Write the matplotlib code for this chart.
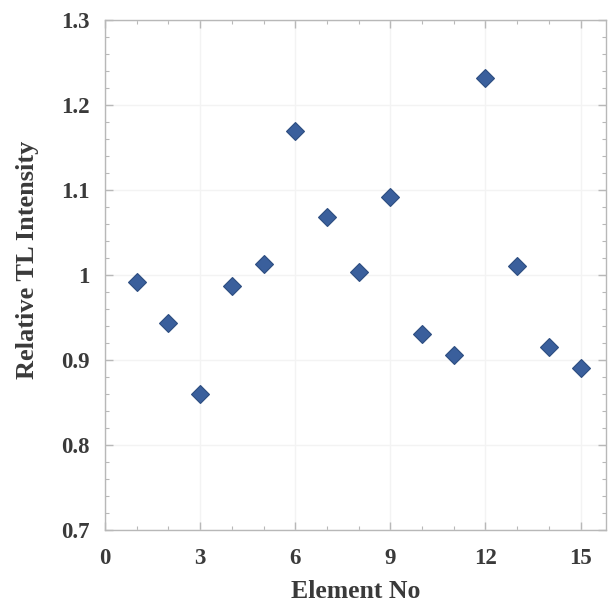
import numpy as np
import matplotlib
matplotlib.use('Agg')
import matplotlib.pyplot as plt
from matplotlib.ticker import MultipleLocator

# Relative TL intensity read off each element of the chart
elements = [1, 2, 3, 4, 5, 6, 7, 8, 9, 10, 11, 12, 13, 14, 15]
intensity = [0.992, 0.944, 0.860, 0.987, 1.013, 1.169, 1.068, 1.003,
             1.092, 0.931, 0.906, 1.232, 1.010, 0.915, 0.890]

x_ticks = [0, 3, 6, 9, 12, 15]
y_ticks = [0.7, 0.8, 0.9, 1.0, 1.1, 1.2, 1.3]
y_tick_labels = ['0.7', '0.8', '0.9', '1', '1.1', '1.2', '1.3']

plt.rcParams['font.family'] = ['Liberation Serif', 'DejaVu Serif']
plt.rcParams['font.weight'] = 'bold'

fig = plt.figure(figsize=(6.09, 6.08), dpi=100)
ax = fig.add_axes([0.1724, 0.1283, 0.8226, 0.8388])

ax.plot(elements, intensity, linestyle='none', marker='D', markersize=9.6,
        markerfacecolor='#3a5f9c', markeredgecolor='#2d4d80', markeredgewidth=0.8,
        zorder=3)

ax.set_xlim(0, 15.8)
ax.set_ylim(0.7, 1.3)
ax.set_xticks(x_ticks)
ax.set_yticks(y_ticks)
ax.set_yticklabels(y_tick_labels)
ax.xaxis.set_minor_locator(MultipleLocator(1))
ax.yaxis.set_minor_locator(MultipleLocator(0.02))

ax.grid(which='major', color='#f3f3f3', linewidth=1.0, zorder=0)
for sp in ax.spines.values():
    sp.set_color('#b8b8b8')
    sp.set_linewidth(1.0)

ax.tick_params(which='both', direction='in', top=True, right=True,
               color='#b8b8b8', labelcolor='#3a3a3a')
ax.tick_params(which='major', length=6, width=1, labelsize=16.5)
ax.tick_params(axis='x', which='major', pad=13)
ax.tick_params(axis='y', which='major', pad=11)
ax.tick_params(which='minor', length=3, width=0.8)
for lbl in ax.get_xticklabels() + ax.get_yticklabels():
    lbl.set_fontweight('bold')

ax.set_xlabel('Element No', fontsize=18.5, fontweight='bold', color='#3a3a3a')
ax.set_ylabel('Relative TL Intensity', fontsize=19, fontweight='bold', color='#3a3a3a')
ax.xaxis.set_label_coords(0.5, -0.098)
ax.yaxis.set_label_coords(-0.132, 0.53)

fig.savefig('out.png', dpi=100)
